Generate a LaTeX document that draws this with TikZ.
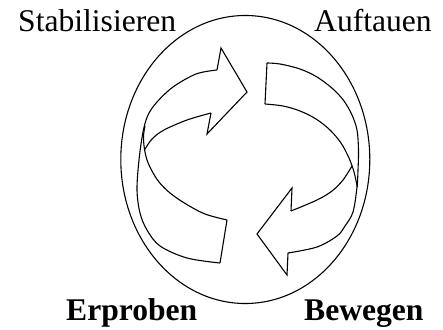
\documentclass[tikz,border=0pt]{standalone}
\usepackage{fontspec}
\setmainfont{Liberation Serif}
\begin{document}
\begin{tikzpicture}[x=1pt,y=-1pt,
  edge/.style={line width=1.1pt, line join=miter},
  lbl/.style={anchor=base west, inner sep=0pt, font=\fontsize{31.6}{36}\selectfont},
  blbl/.style={lbl, font=\fontsize{31.6}{36}\selectfont\bfseries}]
\useasboundingbox (0,0) rectangle (443,329);
% outer ellipse
\draw[edge] (245.3,159.5) ellipse [x radius=124.5, y radius=144];
% labels
\node[lbl] (stab) at (18,31) {Stabilisieren};
\node[lbl] (auf) at (314,31) {Auftauen};
\node[blbl] (erp) at (66,320) {Erproben};
\node[blbl] (bew) at (304,320) {Bewegen};
% ---- left arrow ----
\draw[edge] (217,70) -- (221,48) -- (247,92) -- (207,134) -- (211,113);
\draw[edge] plot[smooth, tension=0.55] coordinates {(217,70) (196,74) (173,87) (157,102) (148,115) (143,132) (139,160) (137,190) (140,213) (147,230) (160,246) (187,258) (220,263)};
\draw[edge] (220,263) -- (227,220);
\draw[edge] plot[smooth, tension=0.55] coordinates {(227,220) (205,214) (186,204) (170,193) (159,182) (152,171) (147,160) (144.3,148) (143.5,136) (145,126)};
\draw[edge] plot[smooth, tension=0.55] coordinates {(211,113) (187,120) (164,130) (152,139) (144.5,150)};
% ---- right arrow ----
\draw[edge] (288,253) -- (287,275) -- (257,234) -- (292,188) -- (291,211);
\draw[edge] plot[smooth, tension=0.55] coordinates {(267,63) (280,64) (300,69) (317,77) (333,89) (344,101) (352,115) (357,130) (358.5,150) (358,170) (357,187) (353,212) (345,226) (337,236) (317,247) (288,253)};
\draw[edge] (267,63) -- (265,104);
\draw[edge] plot[smooth, tension=0.55] coordinates {(265,104) (283,106) (300,111) (316,119) (330,130) (341,143) (349,158) (354,172) (357.3,187)};
\draw[edge] plot[smooth, tension=0.55] coordinates {(291,211) (317,200) (332,191) (343,180) (352,166)};
\end{tikzpicture}
\end{document}
